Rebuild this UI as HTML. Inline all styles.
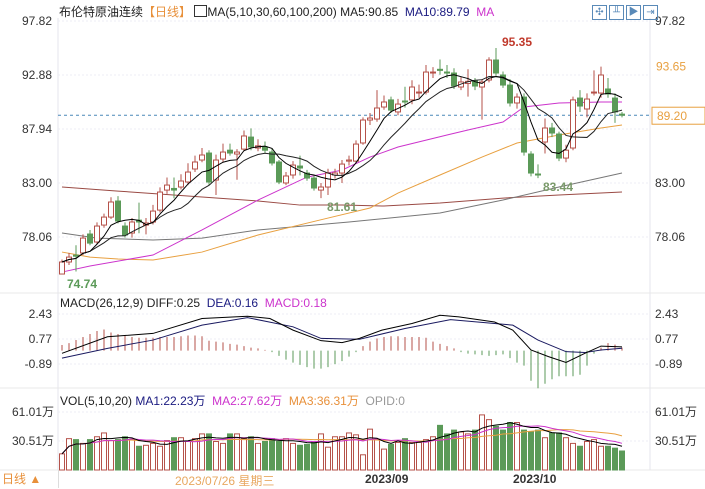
<!DOCTYPE html>
<html><head><meta charset="utf-8">
<style>
body{margin:0;background:#fff;width:705px;height:488px;overflow:hidden;font-family:"Liberation Sans","Noto Sans CJK SC",sans-serif;}
svg{position:absolute;left:0;top:0}
text{font-family:"Liberation Sans","Noto Sans CJK SC",sans-serif;font-size:12px}
</style></head>
<body>
<svg id="c" width="705" height="488"></svg>
<script>
const opens=[74.67,75.77,76.4,76.6,78.33,77.6,79.15,79.88,81.35,79.06,78.42,79.6,79.15,79.43,80.52,82.35,82.5,82.63,83.09,84.28,85.1,85.74,83.27,85.19,86.0,85.65,86.1,87.2,86.2,86.3,85.83,84.92,83.0,83.73,84.55,83.91,83.45,82.35,82.63,83.73,83.91,85.0,85.0,86.66,88.76,88.85,89.95,90.6,89.5,90.5,90.6,91.23,91.32,93.06,93.4,93.15,93.06,91.78,92.1,92.33,91.78,92.42,94.25,92.88,91.96,90.32,90.86,85.65,83.82,86.75,88.03,87.48,85.28,86.2,90.77,89.77,91.23,91.23,91.6,90.77,89.3];
const closes=[75.77,76.22,76.3,77.96,77.5,79.06,79.88,81.26,79.52,78.24,79.43,79.43,79.34,80.43,82.17,82.81,82.35,83.18,84.0,84.92,85.56,83.09,85.1,85.83,85.74,85.83,87.3,86.3,86.4,86.0,84.83,83.09,83.64,84.64,84.37,83.45,82.54,82.63,83.91,83.91,84.73,85.1,86.56,88.76,88.94,89.86,90.41,89.67,90.22,90.41,91.78,91.32,93.15,93.15,93.3,93.06,91.87,92.24,92.3,91.87,92.24,94.25,93.06,91.96,90.32,90.86,85.83,83.91,83.73,88.03,87.57,85.28,86.0,90.6,90.04,90.68,91.32,92.88,91.14,89.5,89.2];
const highs=[76.0,76.6,77.3,78.3,78.7,79.4,80.2,81.7,81.8,79.4,79.8,81.2,79.8,81.0,82.6,83.5,83.5,83.8,84.8,85.5,86.2,86.0,85.6,86.6,86.6,86.1,87.8,88.0,87.0,86.8,86.2,85.1,84.0,85.0,85.5,84.2,83.7,83.0,84.3,84.3,85.1,85.5,86.9,89.0,89.4,91.5,91.0,90.9,90.7,91.8,92.4,92.0,93.8,93.6,94.3,93.8,93.5,92.7,93.4,92.6,92.5,94.5,95.35,93.2,92.5,91.2,91.2,85.9,84.7,88.9,88.5,87.7,86.5,90.9,91.5,91.2,93.3,93.65,92.6,91.2,89.5];
const lows=[74.74,75.5,74.9,76.4,77.3,77.4,78.9,79.7,79.3,78.0,78.0,78.4,78.3,79.2,80.3,82.0,81.6,82.4,82.8,84.0,84.9,82.8,81.9,84.9,85.5,83.3,85.9,86.0,85.9,85.7,84.6,82.9,82.8,83.4,83.7,83.2,82.3,81.61,81.9,83.4,83.0,84.6,84.8,86.5,88.3,88.6,89.7,89.4,89.2,89.9,90.2,90.8,91.1,92.6,92.9,92.6,91.6,91.5,90.9,91.5,88.8,92.2,92.8,91.7,90.0,89.8,85.5,83.6,83.44,85.7,87.2,85.0,84.9,86.0,89.5,89.0,91.0,90.8,90.8,88.5,89.0];
const ma30Idx=[0,4,13,20,28,35,40,44,48,55,58,63,66,71,77,80];
const ma30Val=[74.85,75.4,76.41,78.7,81.44,83.54,84.18,85.37,86.29,87.39,87.85,88.58,89.95,90.32,90.41,90.41];
const ma60Idx=[0,4,8,13,20,28,38,44,48,54,60,65,71,77,80];
const ma60Val=[76.68,76.22,76.04,75.95,76.68,78.24,79.79,80.71,82.08,83.73,85.37,86.66,87.39,88.03,88.3];
const ma100Idx=[0,5,13,20,28,41,54,63,71,80];
const ma100Val=[78.42,77.96,77.78,77.96,78.7,79.43,80.25,81.44,82.63,83.91];
const ma200Idx=[0,8,20,28,34,40,46,54,63,71,80];
const ma200Val=[82.63,82.26,81.72,81.35,80.98,80.98,80.89,81.17,81.62,81.9,82.17];
const macdHist=[0.37,0.5,0.7,0.9,1.1,1.3,1.4,1.2,1.1,1.0,0.9,0.85,0.85,0.85,0.9,0.9,0.9,0.95,1.0,1.0,0.95,0.65,0.6,0.55,0.45,0.4,0.3,0.2,0.15,0.05,-0.1,-0.35,-0.6,-0.8,-0.95,-1.1,-1.2,-1.2,-1.1,-0.9,-0.7,-0.4,-0.1,0.3,0.6,0.8,0.9,0.95,0.95,0.9,0.9,0.9,0.85,0.6,0.45,0.3,0.15,-0.1,-0.2,-0.25,-0.3,-0.35,-0.3,-0.25,-0.5,-0.8,-1.0,-2.0,-2.5,-2.2,-1.9,-1.7,-1.7,-1.7,-1.6,-1.0,-0.2,0.2,0.5,0.4,0.2];
const diffIdx=[0,6.5,13,20,26.5,29.7,33,37,40,42.5,45.7,50,54,56.7,61.8,64.4,67,69.5,72,74.7,77,80];
const diffVal=[-0.18,0.92,1.14,2.13,2.28,2.13,1.36,0.66,0.53,0.81,1.36,1.8,2.35,2.24,1.9,1.36,0.04,-0.4,-0.79,-0.18,0.3,0.25];
const deaIdx=[0,6.5,13,20,26.5,33,37,42.5,49,55.5,61.8,64.4,68,72,74.7,77,80];
const deaVal=[-0.5,0.15,0.7,1.69,2.19,1.58,0.81,0.75,1.47,2.06,1.8,1.69,0.7,-0.07,-0.13,0.04,0.16];
const vols=[17,33,32,28,32,35,39,31,32,35,32,25,26,28,25,31,34,34,30,33,38,38,30,28,38,38,33,35,28,30,33,30,33,28,26,27,29,38,24,35,35,39,37,16,43,32,22,27,29,33,29,29,32,35,47,38,42,40,38,42,58,53,46,42,50,50,42,40,42,34,39,39,34,28,25,30,32,25,25,23,20];
const priceTicks=[97.82,92.88,87.94,83.00,78.06];
const priceTicksRight=[97.82,83.00,78.06];
const macdTicks=[2.43,0.77,-0.89];
const volTicks=[61.01,30.51];

const NS='http://www.w3.org/2000/svg';
const svg=document.getElementById('c');
function el(tag,attrs,parent){const e=document.createElementNS(NS,tag);for(const k in attrs)e.setAttribute(k,attrs[k]);(parent||svg).appendChild(e);return e;}
const X=i=>62+i*7;
const PY=p=>21+(97.82-p)*10.93;
const MY=v=>350.6-v*15.06;
const VY=v=>470-v*0.95;
const RED='#b5524a',GRN='#5b9a58';

let g=el('g',{});


el('line',{x1:58,y1:18,x2:58,y2:470,stroke:'#e4e4ee'},g);
el('line',{x1:650,y1:18,x2:650,y2:470,stroke:'#e4e4ee'},g);
el('line',{x1:0,y1:293,x2:705,y2:293,stroke:'#e8e8e8'},g);
el('line',{x1:0,y1:388,x2:705,y2:388,stroke:'#e8e8e8'},g);
el('line',{x1:0,y1:470,x2:705,y2:470,stroke:'#e8e8e8'},g);
priceTicks.forEach(t=>{el('line',{x1:58,x2:650,y1:PY(t),y2:PY(t),stroke:'#eceef4','stroke-dasharray':'2,2'},g);});
macdTicks.forEach(t=>{el('line',{x1:58,x2:650,y1:MY(t),y2:MY(t),stroke:'#eceef4','stroke-dasharray':'2,2'},g);});
volTicks.forEach(t=>{el('line',{x1:58,x2:650,y1:VY(t),y2:VY(t),stroke:'#eceef4','stroke-dasharray':'2,2'},g);});

priceTicks.forEach(t=>{
 let a=el('text',{x:52,y:PY(t)+4,'text-anchor':'end',fill:'#333'});a.textContent=t.toFixed(2);
 
});
priceTicksRight.forEach(t=>{
 let b=el('text',{x:655,y:PY(t)+4,fill:'#333'});b.textContent=t.toFixed(2);
 
});
macdTicks.forEach(t=>{
 let a=el('text',{x:52,y:MY(t)+4,'text-anchor':'end',fill:'#333'});a.textContent=t.toFixed(2);
 
 let b=el('text',{x:655,y:MY(t)+4,fill:'#333'});b.textContent=t.toFixed(2);
 
});
volTicks.forEach(t=>{
 let a=el('text',{x:54,y:VY(t)+4,'text-anchor':'end',fill:'#333'});a.textContent=t.toFixed(2)+'万';
 
 let b=el('text',{x:655,y:VY(t)+4,fill:'#333'});b.textContent=t.toFixed(2)+'万';
 
});

function sampled(idx,val,color,name,yf){
 const p=el('polyline',{points:idx.map((i,k)=>X(i)+','+yf(val[k])).join(' '),fill:'none',stroke:color,'stroke-width':1});
 
}
sampled(ma200Idx,ma200Val,'#9a4a44','ma200-line',PY);
sampled(ma100Idx,ma100Val,'#777','ma100-line',PY);
sampled(ma60Idx,ma60Val,'#e8a040','ma60-line',PY);
sampled(ma30Idx,ma30Val,'#cc33cc','ma30-line',PY);
function maOf(arr,n){return arr.map((v,i)=>{const s=arr.slice(Math.max(0,i-n+1),i+1);return s.reduce((a,b)=>a+b,0)/s.length;});}
function line(vals,color,name,yf,w){
 const p=el('polyline',{points:vals.map((v,i)=>X(i)+','+yf(v)).join(' '),fill:'none',stroke:color,'stroke-width':w||1});
 
}
const cp=el('line',{x1:58,x2:705,y1:PY(89.2),y2:PY(89.2),stroke:'#4a88b8','stroke-dasharray':'3,3'});


closes.forEach((c,i)=>{
 const o=opens[i],up=c>=o,col=up?RED:GRN,x=X(i);
 const w=el('line',{x1:x,x2:x,y1:PY(highs[i]),y2:PY(lows[i]),stroke:col});
 
 const top=PY(Math.max(o,c)),h=Math.max(1,Math.abs(PY(o)-PY(c)));
 const r=el('rect',{x:x-2.5,y:top,width:5,height:h,fill:up?'#fff':col,stroke:col,'stroke-width':1});
 
});
line(maOf(closes,10),'#222','ma10-line',PY);
line(maOf(closes,5),'#000','ma5-line',PY);

function ann(txt,x,y,col,name){const t=el('text',{x:x,y:y,fill:col,'font-weight':'bold'});t.textContent=txt;}
ann('95.35',502,46,'#c0392b','high-label');
ann('74.74',67,288,'#5b9a58','low-label-1');
ann('81.61',327,211,'#7a9a6a','low-label-2');
ann('83.44',543,191,'#7a9a6a','low-label-3');

let pl=el('text',{x:656,y:PY(93.65)+4,fill:'#e8a040'});pl.textContent='93.65';

let pb=el('rect',{x:652,y:PY(89.2)-8,width:53,height:17,fill:'#fff',stroke:'#e8a040'});

let pt=el('text',{x:657,y:PY(89.2)+5,fill:'#e8a040'});pt.textContent='89.20';


macdHist.forEach((v,i)=>{
 const b=el('line',{x1:X(i),x2:X(i),y1:MY(0),y2:MY(v),stroke:v>=0?'#b5524a':'#5b9a58'});
 
});
sampled(deaIdx,deaVal,'#1a1a60','dea-line',MY);
sampled(diffIdx,diffVal,'#000','diff-line',MY);

vols.forEach((v,i)=>{
 const up=closes[i]>=opens[i],col=up?RED:GRN;
 const r=el('rect',{x:X(i)-2.5,y:VY(v),width:5,height:470-VY(v),fill:up?'#fff':col,stroke:col});
 
});
line(maOf(vols,20),'#e8a040','vol-ma3-line',VY);
line(maOf(vols,10),'#cc33cc','vol-ma2-line',VY);
line(maOf(vols,5),'#000','vol-ma1-line',VY);
</script>

<div style="position:absolute;left:0;top:0;width:705px;height:488px;pointer-events:none">
 <div style="position:absolute;left:59px;top:3px;font-size:12px;color:#222;white-space:nowrap">布伦特原油连续<span style="color:#e8903a">【日线】</span> <span style="display:inline-block;width:11px;height:10px;border:1px solid #333;vertical-align:-1px"></span>MA(5,10,30,60,100,200) MA5:90.85 &nbsp;<span style="color:#1a1a80">MA10:89.79</span> &nbsp;<span style="color:#cc33cc">MA</span></div>
 <div style="position:absolute;left:592px;top:2px">
  <span style="display:inline-block;width:13px;height:13px;border:1px solid #5a8ab8;margin-right:2px;color:#5a8ab8;font-size:10px;line-height:13px;text-align:center">✣</span><span style="display:inline-block;width:13px;height:13px;border:1px solid #5a8ab8;margin-right:2px;color:#5a8ab8;font-size:10px;line-height:13px;text-align:center">╨</span><span style="display:inline-block;width:13px;height:13px;border:1px solid #5a8ab8;margin-right:2px;color:#5a8ab8;font-size:10px;line-height:13px;text-align:center">▶</span><span style="display:inline-block;width:13px;height:13px;border:1px solid #5a8ab8;color:#5a8ab8;font-size:10px;line-height:13px;text-align:center">⇥</span>
 </div>
 <div style="position:absolute;left:60px;top:296px;font-size:12px;color:#222;white-space:nowrap">MACD(26,12,9) DIFF:0.25 &nbsp;<span style="color:#1a1a80">DEA:0.16</span> &nbsp;<span style="color:#cc33cc">MACD:0.18</span></div>
 <div style="position:absolute;left:60px;top:392px;font-size:12px;color:#222;white-space:nowrap">VOL(5,10,20) <span style="color:#1a1a80">MA1:22.23万</span> &nbsp;<span style="color:#cc33cc">MA2:27.62万</span> &nbsp;<span style="color:#e8903a">MA3:36.31万</span> &nbsp;<span style="color:#999">OPID:0</span></div>
 <div style="position:absolute;left:0;top:470px;width:56px;height:18px;border-right:1px solid #ddd;font-size:12px;color:#e8903a;line-height:18px;padding-left:2px">日线 ▲</div>
 <div style="position:absolute;left:175px;top:472px;font-size:12px;color:#e8a860;white-space:nowrap">2023/07/26 星期三</div>
 <div style="position:absolute;left:365px;top:472px;font-size:12px;color:#333;font-weight:bold">2023/09</div>
 <div style="position:absolute;left:513px;top:472px;font-size:12px;color:#333;font-weight:bold">2023/10</div>
</div>
</body></html>
